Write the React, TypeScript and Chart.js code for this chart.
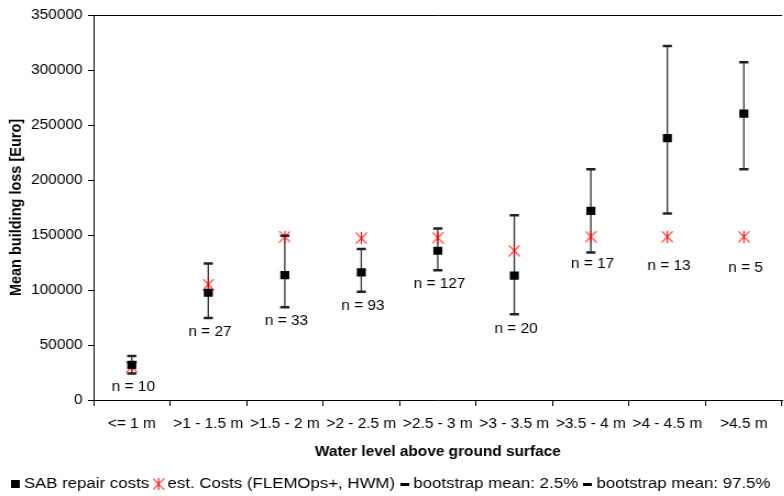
import React, { useEffect, useRef } from 'react';
import { Chart, registerables } from 'chart.js';
Chart.register(...registerables);

const categories = ['<= 1 m', '>1 - 1.5 m', '>1.5 - 2 m', '>2 - 2.5 m', '>2.5 - 3 m', '>3 - 3.5 m', '>3.5 - 4 m', '>4 - 4.5 m', '>4.5 m'];
const sabRepairCosts = [32000, 97500, 113600, 116100, 135700, 113000, 172000, 238000, 260300];
const estCosts = [30000, 105000, 148500, 147000, 147500, 135700, 148500, 148500, 148500];
const bootstrapLow = [24000, 74500, 84300, 98500, 118000, 77900, 134000, 169600, 209700];
const bootstrapHigh = [40000, 124000, 149400, 137300, 156000, 168000, 209700, 321800, 307000];
const sampleCounts = [10, 27, 33, 93, 127, 20, 17, 13, 5];
const countLabelValues = [11800, 62100, 72100, 85500, 105500, 64500, 123600, 121800, 120300];
const yTickValues = [0, 50000, 100000, 150000, 200000, 250000, 300000, 350000];

const legendNames = ['SAB repair costs', 'est. Costs (FLEMOps+, HWM)', 'bootstrap mean: 2.5%', 'bootstrap mean: 97.5%'];

const FONT = "'Liberation Sans', Arial, sans-serif";
const STRETCH = 1.1;
const W = 718;
const H = 496;

function makeImg(w: number, h: number, draw: (c: CanvasRenderingContext2D) => void) {
  const c = document.createElement('canvas');
  c.width = w;
  c.height = h;
  const ctx = c.getContext('2d')!;
  draw(ctx);
  return c;
}

export default function App() {
  const ref = useRef<HTMLCanvasElement>(null);
  useEffect(() => {
    document.body.style.margin = '0';
    document.body.style.overflow = 'hidden';
    const star = makeImg(11, 12, (c) => {
      c.strokeStyle = '#ff0000';
      c.lineWidth = 1.1;
      c.beginPath();
      c.moveTo(0.5, 0.5); c.lineTo(10.5, 11.5);
      c.moveTo(10.5, 0.5); c.lineTo(0.5, 11.5);
      c.moveTo(5.5, 0); c.lineTo(5.5, 12);
      c.stroke();
    });
    const square = makeImg(8, 8, (c) => { c.fillStyle = '#000'; c.fillRect(0, 0, 8, 8); });
    const dash = makeImg(8, 3, (c) => { c.fillStyle = '#000'; c.fillRect(0, 0, 8, 3); });

    const errorBars = {
      id: 'errorBars',
      beforeDatasetsDraw(chart: any) {
        const { ctx, scales: { x, y } } = chart;
        ctx.save();
        ctx.strokeStyle = '#333';
        ctx.lineWidth = 1.3;
        ctx.beginPath();
        bootstrapLow.forEach((lo, i) => {
          const px = x.getPixelForValue(i);
          ctx.moveTo(px, y.getPixelForValue(lo));
          ctx.lineTo(px, y.getPixelForValue(bootstrapHigh[i]));
        });
        ctx.stroke();
        ctx.restore();
      },
    };
    const countLabels = {
      id: 'countLabels',
      afterDatasetsDraw(chart: any) {
        const { ctx, scales: { x, y } } = chart;
        ctx.save();
        ctx.fillStyle = '#000';
        ctx.font = `14px ${FONT}`;
        ctx.textAlign = 'center';
        ctx.textBaseline = 'middle';
        sampleCounts.forEach((n, i) => {
          ctx.fillText(`n = ${n}`, x.getPixelForValue(i) + 1.5, y.getPixelForValue(countLabelValues[i]));
        });
        ctx.restore();
      },
    };

    const legendImgs = [square, star, dash, dash];

    const chart = new Chart(ref.current!, {
      type: 'line',
      data: {
        labels: categories,
        datasets: [
          { label: legendNames[2], data: bootstrapLow, showLine: false, pointStyle: 'line', pointRadius: 4.2, borderWidth: 2.5, borderColor: '#222', backgroundColor: '#222' },
          { label: legendNames[3], data: bootstrapHigh, showLine: false, pointStyle: 'line', pointRadius: 4.2, borderWidth: 2.5, borderColor: '#222', backgroundColor: '#222' },
          { label: legendNames[0], data: sabRepairCosts, showLine: false, pointStyle: 'rect', pointRadius: 5.8, borderWidth: 0, borderColor: '#000', backgroundColor: '#000' },
          { label: legendNames[1], data: estCosts, showLine: false, pointStyle: star as any, pointRadius: 6, borderColor: '#f00', backgroundColor: '#f00' },
        ],
      },
      options: {
        animation: false,
        responsive: false,
        events: [],
        layout: { padding: { top: 15, left: 5, right: 0, bottom: 0 } },
        plugins: {
          tooltip: { enabled: false },
          legend: {
            position: 'bottom',
            align: 'start',
            maxHeight: 27.5,
            labels: {
              usePointStyle: true,
              boxWidth: 1,
              boxHeight: 10,
              padding: 8,
              color: '#000',
              font: { family: FONT, size: 15.3 },
              generateLabels: () =>
                legendNames.map((t, i) => ({
                  text: t,
                  pointStyle: legendImgs[i] as any,
                  fillStyle: '#000',
                  strokeStyle: '#000',
                  lineWidth: 0,
                  hidden: false,
                  datasetIndex: i,
                })),
            },
          },
        },
        scales: {
          x: {
            type: 'category',
            offset: true,
            afterFit: (s: any) => { s.height = 68.5; },
            grid: { offset: true, drawOnChartArea: false, tickLength: 6, color: '#000', lineWidth: 1 },
            border: { color: '#000', width: 1 },
            ticks: { color: '#000', font: { family: FONT, size: 14 }, maxRotation: 0, autoSkip: false, padding: 9.5 },
            title: { display: true, text: 'Water level above ground surface', color: '#000', font: { family: FONT, size: 14, weight: 'bold' }, padding: { top: 0, bottom: 8 } },
          },
          y: {
            min: 0,
            max: 350000,
            afterFit: (s: any) => { s.width = 80; },
            afterBuildTicks: (s: any) => { s.ticks = yTickValues.map((v) => ({ value: v })); },
            grid: {
              drawOnChartArea: true,
              tickLength: 5,
              tickColor: '#000',
              color: (c: any) => (c.tick && c.tick.value === 350000 ? '#000' : 'rgba(0,0,0,0)'),
              lineWidth: 1,
            },
            border: { color: '#000', width: 1 },
            ticks: { color: '#000', font: { family: FONT, size: 14 }, padding: 5, callback: (v: any) => String(v) },
            title: { display: true, text: 'Mean building loss [Euro]', color: '#000', font: { family: FONT, size: 14.5, weight: 'bold' }, padding: { top: 1, bottom: 0 } },
          },
        },
      },
      plugins: [errorBars, countLabels],
    });
    return () => chart.destroy();
  }, []);
  return (
    <div style={{ position: 'absolute', left: 0, top: 0, width: W, height: H, transform: `scaleX(${STRETCH})`, transformOrigin: 'left top' }}>
      <canvas ref={ref} width={W} height={H} />
    </div>
  );
}
